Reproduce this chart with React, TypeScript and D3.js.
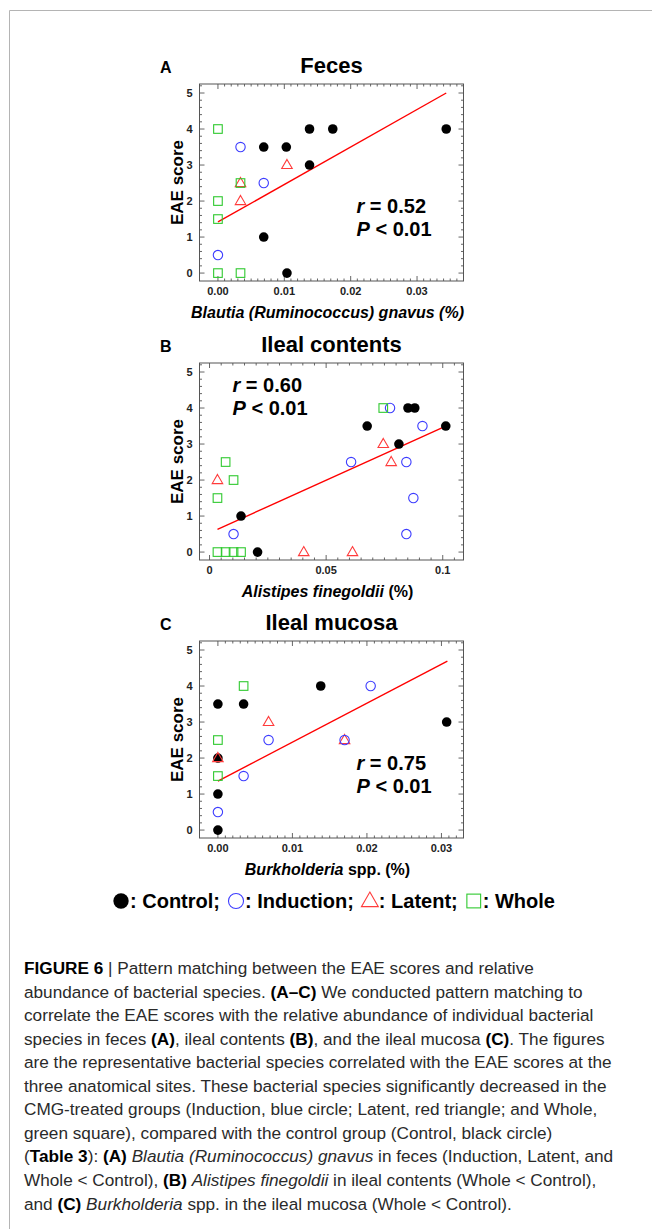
import React, { useEffect, useRef } from 'react';
import * as d3 from 'd3';

// Panel A: feces, Blautia (Ruminococcus) gnavus
const fecesControlX = [0.0069, 0.0103, 0.0138, 0.0173, 0.0344, 0.0138, 0.0069, 0.0104];
const fecesControlY = [3.5, 3.5, 4, 4, 4, 3, 1, 0];
const fecesInductionX = [0.0034, 0.0069, 0];
const fecesInductionY = [3.5, 2.5, 0.5];
const fecesLatentX = [0.0104, 0.0034, 0.0034];
const fecesLatentY = [3, 2, 2.5];
const fecesWholeX = [0, 0, 0, 0, 0.0034, 0.0034];
const fecesWholeY = [4, 2, 1.5, 0, 0, 2.5];
const fecesFitX = [0, 0.0344];
const fecesFitY = [1.42, 5.0];

// Panel B: ileal contents, Alistipes finegoldii
const contentsControlX = [0.0676, 0.0851, 0.088, 0.1013, 0.0812, 0.0135, 0.0206];
const contentsControlY = [3.5, 4, 4, 3.5, 3, 1, 0];
const contentsInductionX = [0.0774, 0.0913, 0.0607, 0.0844, 0.0874, 0.0844, 0.0103];
const contentsInductionY = [4, 3.5, 2.5, 2.5, 1.5, 0.5, 0.5];
const contentsLatentX = [0.0745, 0.0779, 0.0034, 0.0404, 0.0613];
const contentsLatentY = [3, 2.5, 2, 0, 0];
const contentsWholeX = [0.0745, 0.0069, 0.0103, 0.0034, 0.0034, 0.0069, 0.0103, 0.0135];
const contentsWholeY = [4, 2.5, 2, 1.5, 0, 0, 0, 0];
const contentsFitX = [0.0034, 0.1013];
const contentsFitY = [0.63, 3.5];

// Panel C: ileal mucosa, Burkholderia spp.
const mucosaControlX = [0, 0.00345, 0.0138, 0.0307, 0, 0, 0];
const mucosaControlY = [3.5, 3.5, 4, 3, 1, 0, 2];
const mucosaInductionX = [0.0205, 0.017, 0.0068, 0.00345, 0];
const mucosaInductionY = [4, 2.5, 2.5, 1.5, 0.5];
const mucosaLatentX = [0.0068, 0, 0.017];
const mucosaLatentY = [3, 2, 2.5];
const mucosaWholeX = [0.00345, 0, 0];
const mucosaWholeY = [4, 2.5, 1.5];
const mucosaFitX = [0, 0.0308];
const mucosaFitY = [1.36, 4.69];

const yTicks = [0, 1, 2, 3, 4, 5];
const fecesXTicks = [0, 0.01, 0.02, 0.03];
const fecesXLabels = ['0.00', '0.01', '0.02', '0.03'];
const contentsXTicks = [0, 0.05, 0.1];
const contentsXLabels = ['0', '0.05', '0.1'];
const mucosaXTicks = [0, 0.01, 0.02, 0.03];
const mucosaXLabels = ['0.00', '0.01', '0.02', '0.03'];

const statR = ['0.52', '0.60', '0.75'];

const legendNames = ['Control', 'Induction', 'Latent', 'Whole'];

const captionLines = [
  [['b', 'FIGURE 6'], ['n', ' | Pattern matching between the EAE scores and relative']],
  [['n', 'abundance of bacterial species. '], ['b', '(A–C)'], ['n', ' We conducted pattern matching to']],
  [['n', 'correlate the EAE scores with the relative abundance of individual bacterial']],
  [['n', 'species in feces '], ['b', '(A)'], ['n', ', ileal contents '], ['b', '(B)'], ['n', ', and the ileal mucosa '], ['b', '(C)'], ['n', '. The figures']],
  [['n', 'are the representative bacterial species correlated with the EAE scores at the']],
  [['n', 'three anatomical sites. These bacterial species significantly decreased in the']],
  [['n', 'CMG-treated groups (Induction, blue circle; Latent, red triangle; and Whole,']],
  [['n', 'green square), compared with the control group (Control, black circle)']],
  [['n', '('], ['b', 'Table 3'], ['n', '): '], ['b', '(A)'], ['n', ' '], ['i', 'Blautia (Ruminococcus) gnavus'], ['n', ' in feces (Induction, Latent, and']],
  [['n', 'Whole < Control), '], ['b', '(B)'], ['n', ' '], ['i', 'Alistipes finegoldii'], ['n', ' in ileal contents (Whole < Control),']],
  [['n', 'and '], ['b', '(C)'], ['n', ' '], ['i', 'Burkholderia'], ['n', ' spp. in the ileal mucosa (Whole < Control).']],
];

const COLORS = { Control: '#000000', Induction: '#3d3dff', Latent: '#ff3b3b', Whole: '#2fc92f' };
const FONT = 'Arial, "Liberation Sans", sans-serif';
const LEFT = 199.5;
const RIGHT = 463.5;
const H = 197;
const Y_DOMAIN = [-0.22, 5.25];

const panels = [
  {
    letter: 'A', title: 'Feces', top: 84,
    xDomain: [-0.00278, 0.037], xTicks: fecesXTicks, xLabels: fecesXLabels, minor: 0.001,
    xLabel: [['i', 'Blautia (Ruminococcus) gnavus (%)']],
    stat: 'right', r: statR[0],
    control: [fecesControlX, fecesControlY], induction: [fecesInductionX, fecesInductionY],
    latent: [fecesLatentX, fecesLatentY], whole: [fecesWholeX, fecesWholeY], fit: [fecesFitX, fecesFitY],
  },
  {
    letter: 'B', title: 'Ileal contents', top: 363,
    xDomain: [-0.0043, 0.1089], xTicks: contentsXTicks, xLabels: contentsXLabels, minor: 0.005,
    xLabel: [['i', 'Alistipes finegoldii'], ['n', ' (%)']],
    stat: 'left', r: statR[1],
    control: [contentsControlX, contentsControlY], induction: [contentsInductionX, contentsInductionY],
    latent: [contentsLatentX, contentsLatentY], whole: [contentsWholeX, contentsWholeY], fit: [contentsFitX, contentsFitY],
  },
  {
    letter: 'C', title: 'Ileal mucosa', top: 641,
    xDomain: [-0.00247, 0.03296], xTicks: mucosaXTicks, xLabels: mucosaXLabels, minor: 0.001,
    xLabel: [['i', 'Burkholderia'], ['n', ' spp. (%)']],
    stat: 'right', r: statR[2],
    control: [mucosaControlX, mucosaControlY], induction: [mucosaInductionX, mucosaInductionY],
    latent: [mucosaLatentX, mucosaLatentY], whole: [mucosaWholeX, mucosaWholeY], fit: [mucosaFitX, mucosaFitY],
  },
];

const zip = (xs: number[], ys: number[]) => xs.map((v, i) => [v, ys[i]]);

const drawMarker = (g: any, kind: string, cx: number, cy: number, big = false) => {
  const k = big ? 1.6 : 1;
  if (kind === 'Control') {
    g.append('circle').attr('cx', cx).attr('cy', cy).attr('r', 4.8 * k).attr('fill', COLORS.Control);
  } else if (kind === 'Induction') {
    g.append('circle').attr('cx', cx).attr('cy', cy).attr('r', 4.7 * k)
      .attr('fill', 'none').attr('stroke', COLORS.Induction).attr('stroke-width', 1.1);
  } else if (kind === 'Latent') {
    g.append('path').attr('transform', `translate(${cx},${cy + 0.5 * k})`)
      .attr('d', d3.symbol().type(d3.symbolTriangle).size(48 * k * k)())
      .attr('fill', 'none').attr('stroke', COLORS.Latent).attr('stroke-width', 1.1);
  } else {
    const s = 8.6 * k;
    g.append('rect').attr('x', cx - s / 2).attr('y', cy - s / 2).attr('width', s).attr('height', s)
      .attr('fill', 'none').attr('stroke', COLORS.Whole).attr('stroke-width', 1.1);
  }
};

const drawPanel = (svg: any, p: any) => {
  const x = d3.scaleLinear().domain(p.xDomain).range([LEFT, RIGHT]);
  const y = d3.scaleLinear().domain(Y_DOMAIN).range([p.top + H, p.top]);
  const g = svg.append('g').attr('font-family', FONT);
  const bottom = p.top + H;

  g.append('text').attr('x', 160).attr('y', p.top - 11).attr('font-size', 16)
    .attr('font-weight', 'bold').text(p.letter);
  g.append('text').attr('x', (LEFT + RIGHT) / 2).attr('y', p.top - 11).attr('text-anchor', 'middle')
    .attr('font-size', 22).attr('font-weight', 'bold').text(p.title);

  // frame
  g.append('rect').attr('x', LEFT).attr('y', p.top).attr('width', RIGHT - LEFT).attr('height', H)
    .attr('fill', 'none').attr('stroke', '#555').attr('stroke-width', 1);

  const ticks = g.append('g').attr('stroke', '#555').attr('stroke-width', 0.9);
  const yMinor = d3.range(0, 5.2001, 0.2);
  yMinor.forEach((v) => {
    const major = Math.abs(v - Math.round(v)) < 1e-6;
    const len = major ? 5 : 2.5;
    ticks.append('line').attr('x1', LEFT).attr('x2', LEFT + len).attr('y1', y(v)).attr('y2', y(v));
    ticks.append('line').attr('x1', RIGHT).attr('x2', RIGHT - len).attr('y1', y(v)).attr('y2', y(v));
  });
  const xMinor = d3.range(0, p.xDomain[1], p.minor);
  xMinor.forEach((v) => {
    const major = p.xTicks.some((t: number) => Math.abs(t - v) < p.minor / 10);
    const len = major ? 5 : 2.5;
    ticks.append('line').attr('x1', x(v)).attr('x2', x(v)).attr('y1', bottom).attr('y2', bottom - len);
    ticks.append('line').attr('x1', x(v)).attr('x2', x(v)).attr('y1', p.top).attr('y2', p.top + len);
  });

  yTicks.forEach((v) => {
    g.append('text').attr('x', LEFT - 7).attr('y', y(v) + 4).attr('text-anchor', 'end')
      .attr('font-size', 11).attr('font-weight', 'bold').attr('fill', '#222').text(v);
  });
  p.xTicks.forEach((v: number, i: number) => {
    g.append('text').attr('x', x(v)).attr('y', bottom + 14).attr('text-anchor', 'middle')
      .attr('font-size', 11).attr('font-weight', 'bold').attr('fill', '#222').text(p.xLabels[i]);
  });

  g.append('text').attr('transform', `translate(183,${p.top + H / 2}) rotate(-90)`)
    .attr('text-anchor', 'middle').attr('font-size', 17).attr('font-weight', 'bold').text('EAE score');

  const xl = g.append('text').attr('x', (LEFT + RIGHT) / 2 - 4).attr('y', bottom + 37)
    .attr('text-anchor', 'middle').attr('font-size', 16).attr('font-weight', 'bold');
  p.xLabel.forEach(([s, t]: string[]) => {
    xl.append('tspan').attr('font-style', s === 'i' ? 'italic' : 'normal').text(t);
  });

  // regression line
  const line = d3.line().x((d: any) => x(d[0])).y((d: any) => y(d[1]));
  g.append('path').attr('d', line(zip(p.fit[0], p.fit[1]) as any)).attr('fill', 'none')
    .attr('stroke', '#ff0000').attr('stroke-width', 1.4);

  const marks = g.append('g');
  [['Control', p.control], ['Latent', p.latent], ['Induction', p.induction], ['Whole', p.whole]].forEach(
    ([kind, d]: any) => {
      zip(d[0], d[1]).forEach(([a, b]) => drawMarker(marks, kind, x(a), y(b)));
    }
  );

  const sx = p.stat === 'right' ? 356.5 : 232.5;
  const sy = p.stat === 'right' ? p.top + 129 : p.top + 29;
  const t1 = g.append('text').attr('x', sx).attr('y', sy).attr('font-size', 20).attr('font-weight', 'bold');
  t1.append('tspan').attr('font-style', 'italic').text('r');
  t1.append('tspan').text(` = ${p.r}`);
  const t2 = g.append('text').attr('x', sx).attr('y', sy + 23).attr('font-size', 20).attr('font-weight', 'bold');
  t2.append('tspan').attr('font-style', 'italic').text('P');
  t2.append('tspan').text(' < 0.01');
};

const App = () => {
  const ref = useRef<SVGSVGElement>(null);

  useEffect(() => {
    const svg = d3.select(ref.current);
    svg.selectAll('*').remove();

    svg.append('line').attr('x1', 9.5).attr('x2', 652).attr('y1', 10.5).attr('y2', 10.5)
      .attr('stroke', '#b4b4b4').attr('stroke-width', 1);
    svg.append('line').attr('x1', 9.5).attr('x2', 9.5).attr('y1', 10.5).attr('y2', 1229)
      .attr('stroke', '#b4b4b4').attr('stroke-width', 1);

    panels.forEach((p) => drawPanel(svg, p));

    // legend
    const lg = svg.append('g').attr('font-family', FONT);
    let cx = 0;
    legendNames.forEach((name, i) => {
      drawMarker(lg, name, cx + 8, -7, true);
      cx += 17;
      const t = lg.append('text').attr('x', cx).attr('y', 0).attr('font-size', 20).attr('font-weight', 'bold')
        .text(`: ${name}${i < legendNames.length - 1 ? ';' : ''}`);
      cx += (t.node() as SVGTextElement).getComputedTextLength() + 8;
    });
    const total = cx - 8;
    lg.attr('transform', `translate(${334 - total / 2},908)`);

    // caption
    const cap = svg.append('g').attr('font-family', FONT).attr('font-size', 17.2);
    captionLines.forEach((parts, i) => {
      const t = cap.append('text').attr('x', 24).attr('y', 974 + i * 23.55).attr('fill', '#2a2a2a');
      parts.forEach(([s, txt]) => {
        const ts = t.append('tspan').text(txt);
        if (s === 'b') ts.attr('font-weight', 'bold').attr('fill', '#000');
        if (s === 'i') ts.attr('font-style', 'italic');
      });
    });
  }, []);

  return (
    <div style={{ position: 'absolute', left: 0, top: 0 }}>
      <svg ref={ref} width={652} height={1229} style={{ display: 'block', background: '#fff' }} />
    </div>
  );
};

export default App;
